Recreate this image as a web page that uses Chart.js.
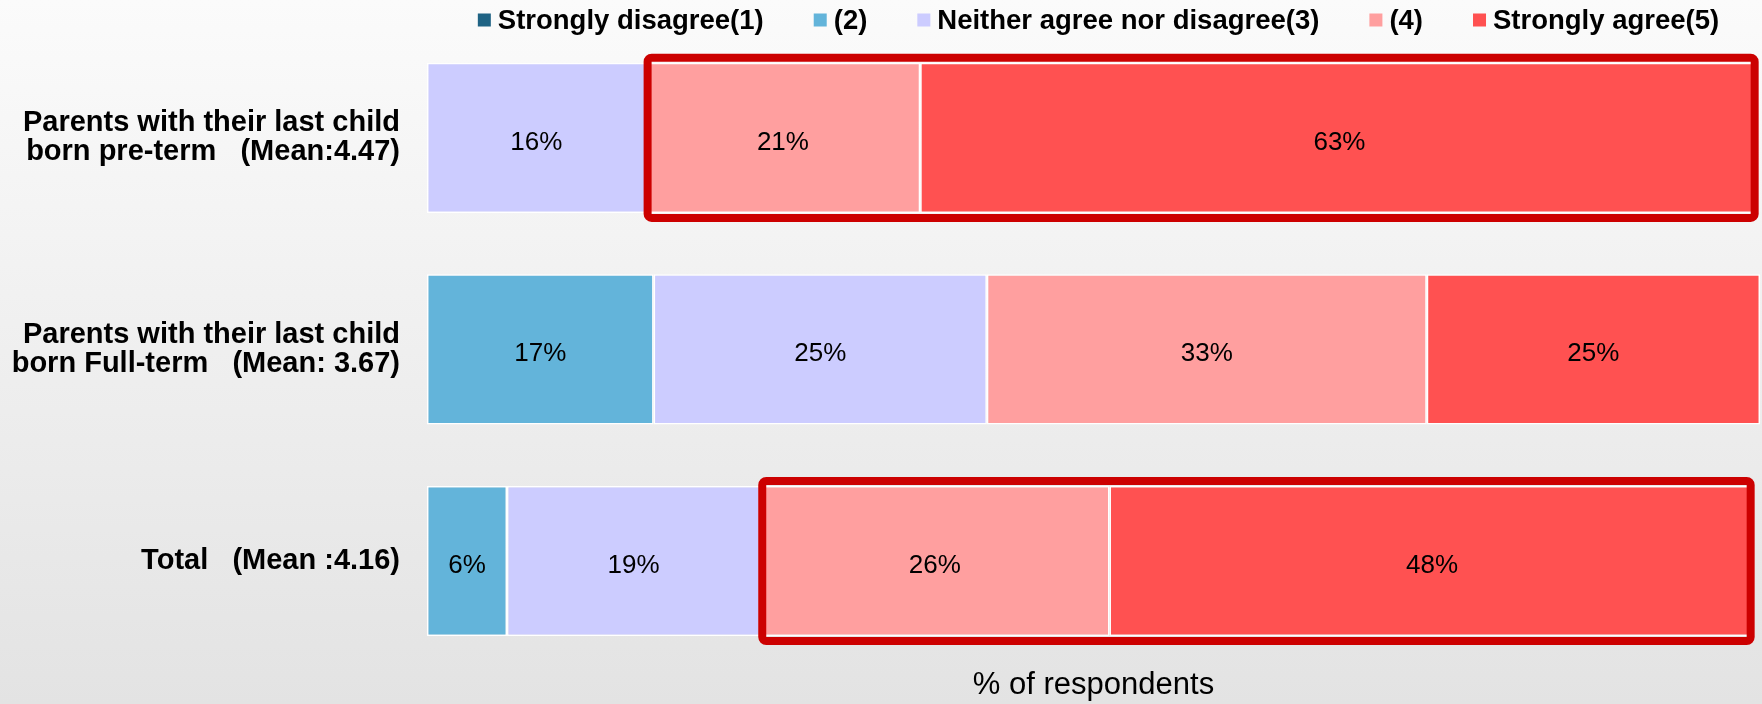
<!DOCTYPE html>
<html>
<head>
<meta charset="utf-8">
<script src="https://cdn.jsdelivr.net/npm/chart.js@4.4.0/dist/chart.umd.min.js"></script>
<style>
  html, body { margin: 0; padding: 0; }
  body { width: 1762px; height: 704px; overflow: hidden; background: linear-gradient(#fbfbfb, #e3e3e3); }
  canvas { display: block; }
</style>
</head>
<body>
<canvas id="chart" width="1762" height="704"></canvas>
<script>
// rows, top to bottom
const groups = [
  ["Parents with their last child", "born pre-term   (Mean:4.47)"],
  ["Parents with their last child", "born Full-term   (Mean: 3.67)"],
  ["Total   (Mean :4.16)"]
];
const seriesNames = ["Strongly disagree(1)", "(2)", "Neither agree nor disagree(3)", "(4)", "Strongly agree(5)"];
const seriesColors = ["#1f6384", "#63b4da", "#ccccff", "#ff9f9f", "#ff5151"];

// % of respondents per row
const disagree1 = [0, 0, 0];
const rating2 = [0, 17, 6];
const neutral3 = [16.4, 25, 19];
const rating4 = [20.6, 33, 26.2];
const agree5 = [62.9, 25, 48.4];

const highlighted = [0, 2]; // rows where (4)+(5) get the red box

const FONT = '"Liberation Sans", Arial, Helvetica, sans-serif';

// red frame around the (4)+(5) part of some rows
const highlightBoxes = {
  id: "highlightBoxes",
  afterDatasetsDraw(chart) {
    const ctx = chart.ctx;
    const m4 = chart.getDatasetMeta(3);
    const m5 = chart.getDatasetMeta(4);
    ctx.save();
    ctx.strokeStyle = "#cc0000";
    ctx.lineWidth = 8;
    ctx.lineJoin = "round";
    highlighted.forEach(j => {
      const a = m4.data[j], b = m5.data[j];
      const x0 = a.base + 2, x1 = b.x - 4;
      const y0 = a.y - a.height / 2 - 5, y1 = a.y + a.height / 2 + 5;
      ctx.beginPath();
      ctx.roundRect(x0, y0, x1 - x0, y1 - y0, 4);
      ctx.stroke();
    });
    ctx.restore();
  }
};

// percentage text in the middle of each segment
const segmentLabels = {
  id: "segmentLabels",
  afterDatasetsDraw(chart) {
    const ctx = chart.ctx;
    ctx.save();
    ctx.font = "26px " + FONT;
    ctx.fillStyle = "#000";
    ctx.textAlign = "center";
    ctx.textBaseline = "alphabetic";
    chart.data.datasets.forEach((ds, i) => {
      chart.getDatasetMeta(i).data.forEach((bar, j) => {
        const v = ds.data[j];
        if (!v) return;
        ctx.fillText(Math.round(v) + "%", (bar.x + bar.base) / 2, bar.y + 12);
      });
    });
    ctx.restore();
  }
};

// legend row on top, centred over the plot area
const topLegend = {
  id: "topLegend",
  afterDraw(chart) {
    const ctx = chart.ctx;
    const box = 13, gapText = 7, gapItem = 50, y = 20;
    ctx.save();
    ctx.font = "bold 27.5px " + FONT;
    ctx.textBaseline = "middle";
    const dsets = chart.data.datasets;
    const widths = dsets.map(ds => ctx.measureText(ds.label).width);
    const total = widths.reduce((s, w) => s + w, 0) + dsets.length * (box + gapText) + (dsets.length - 1) * gapItem;
    const area = chart.chartArea;
    let x = (area.left + area.right) / 2 - total / 2 + 5;
    dsets.forEach((ds, i) => {
      ctx.fillStyle = ds.backgroundColor;
      ctx.fillRect(x, y - box / 2, box, box);
      x += box + gapText;
      ctx.fillStyle = "#000";
      ctx.fillText(ds.label, x, y + 1);
      x += widths[i] + gapItem;
    });
    ctx.restore();
  }
};

const seriesData = [disagree1, rating2, neutral3, rating4, agree5];

new Chart(document.getElementById("chart"), {
  type: "bar",
  data: {
    labels: groups,
    datasets: seriesData.map((d, i) => ({
      label: seriesNames[i],
      data: d,
      backgroundColor: seriesColors[i],
      borderColor: "#ffffff",
      borderWidth: 1.5,
      borderSkipped: false,
      barPercentage: 0.71,
      categoryPercentage: 1
    }))
  },
  options: {
    indexAxis: "y",
    responsive: false,
    devicePixelRatio: 1,
    animation: false,
    layout: { padding: { top: 32, right: 2, left: 0, bottom: 0 } },
    plugins: {
      legend: { display: false },
      tooltip: { enabled: false }
    },
    scales: {
      x: {
        stacked: true,
        min: 0,
        max: 100,
        ticks: { display: false },
        grid: { display: false, drawTicks: false },
        border: { display: false },
        afterFit: s => { s.paddingLeft = 0; s.paddingRight = 0; },
        title: {
          display: true,
          text: "% of respondents",
          color: "#000",
          font: { family: FONT, size: 31 },
          padding: { top: 0, bottom: 0 }
        }
      },
      y: {
        stacked: true,
        afterFit: s => { s.width = 427; s.paddingTop = 0; s.paddingBottom = 0; },
        ticks: {
          color: "#000",
          padding: 27,
          font: { family: FONT, size: 29, weight: "bold", lineHeight: 1.0 }
        },
        grid: { display: false, drawTicks: false },
        border: { display: false }
      }
    }
  },
  plugins: [highlightBoxes, segmentLabels, topLegend]
});
</script>
</body>
</html>
